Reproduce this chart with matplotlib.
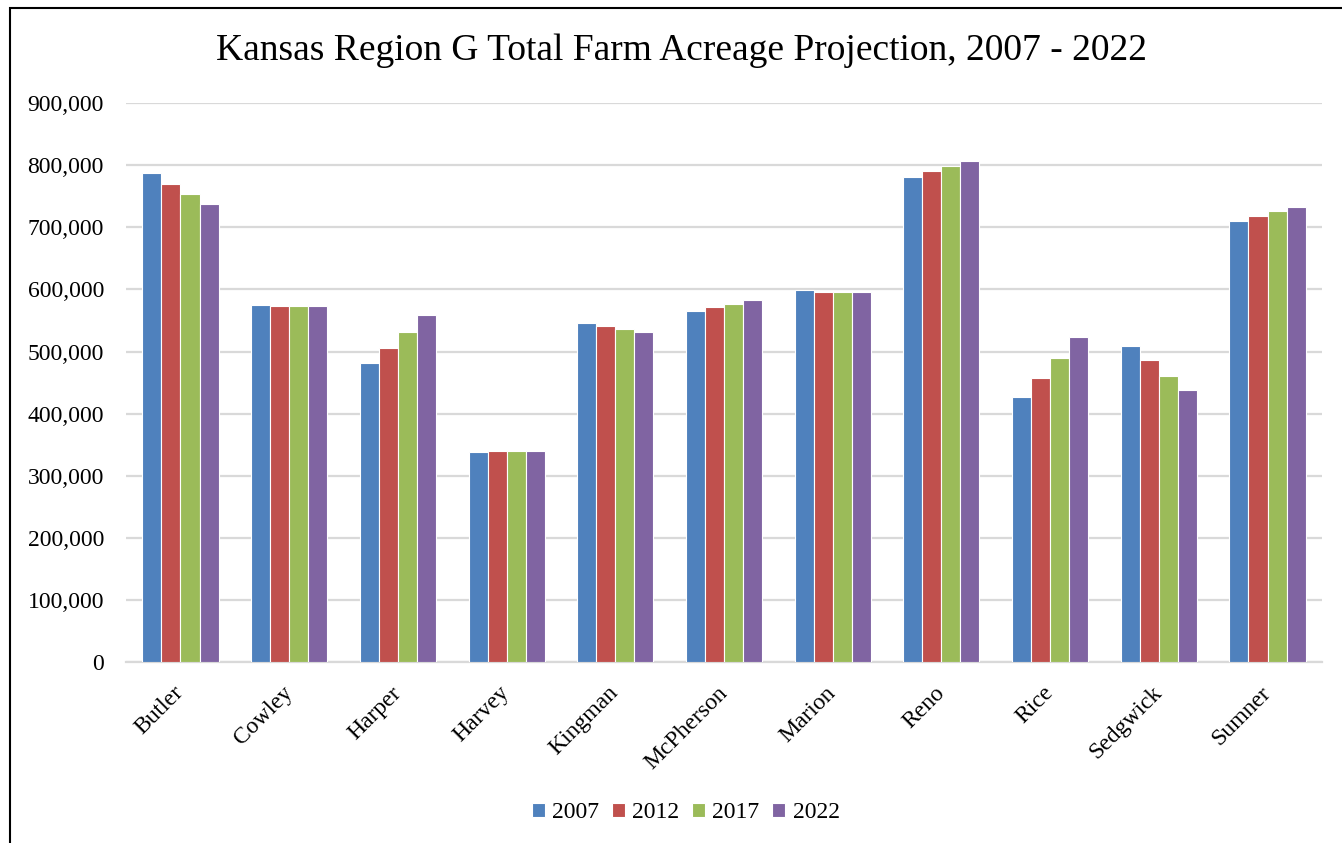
import matplotlib
import matplotlib.pyplot as plt
import numpy as np
from matplotlib.patches import Rectangle
from matplotlib.ticker import FuncFormatter

matplotlib.use('Agg')
plt.rcParams['font.family'] = ['Liberation Serif', 'DejaVu Serif']

condados = ['Butler', 'Cowley', 'Harper', 'Harvey', 'Kingman', 'McPherson',
            'Marion', 'Reno', 'Rice', 'Sedgwick', 'Sumner']
anios = ['2007', '2012', '2017', '2022']

acres_2007 = [788000, 575000, 481000, 338000, 546000, 566000, 599000, 781000, 427000, 509000, 710000]
acres_2012 = [769000, 574000, 505000, 339000, 541000, 571000, 596000, 790000, 457000, 486000, 719000]
acres_2017 = [753000, 574000, 531000, 339000, 536000, 577000, 596000, 798000, 489000, 461000, 726000]
acres_2022 = [738000, 574000, 558000, 339000, 531000, 583000, 596000, 806000, 523000, 438000, 733000]

series = [acres_2007, acres_2012, acres_2017, acres_2022]
colores = ['#4F81BD', '#C0504D', '#9BBB59', '#8064A2']

fig = plt.figure(figsize=(13.42, 8.43), dpi=100)
ax = fig.add_axes([0.094, 0.2147, 0.891, 0.663])

x = np.arange(len(condados))
width = 0.175

# barras por anio
for i, (vals, col, anio) in enumerate(zip(series, colores, anios)):
    ax.bar(x + (i - 1.5) * width, vals, width=width, color=col,
           edgecolor='white', linewidth=0.8, label=anio, zorder=3)

ax.set_xlim(-0.5, len(condados) - 0.5)
ax.set_ylim(0, 900000)
ax.set_yticks(np.arange(0, 900001, 100000))
ax.yaxis.set_major_formatter(FuncFormatter(lambda v, p: f'{v:,.0f}'))
ax.grid(axis='y', color='#D9D9D9', linewidth=1.6, zorder=0)
ax.set_axisbelow(True)

for s in ['top', 'right', 'left']:
    ax.spines[s].set_visible(False)
ax.spines['bottom'].set_color('#D9D9D9')
ax.spines['bottom'].set_linewidth(1.6)

ax.tick_params(axis='both', length=0, labelsize=17)
ax.tick_params(axis='y', pad=16)
ax.set_xticks(x)
ax.set_xticklabels(condados, rotation=45, ha='right', va='center',
                   rotation_mode='anchor')
ax.tick_params(axis='x', pad=20)

fig.text(0.508, 0.94, 'Kansas Region G Total Farm Acreage Projection, 2007 - 2022',
         ha='center', va='center', fontsize=27)

fig.legend(loc='center', bbox_to_anchor=(0.511, 0.036), ncol=4, frameon=False,
           fontsize=17, handlelength=0.55, handleheight=0.55, handletextpad=0.3,
           columnspacing=0.55)

# marco del grafico
fig.patches.append(Rectangle((0.0075, -0.02), 1.1, 1.01, transform=fig.transFigure,
                             fill=False, edgecolor='black', linewidth=1.5))

fig.savefig('out.png', dpi=100, facecolor='white')
